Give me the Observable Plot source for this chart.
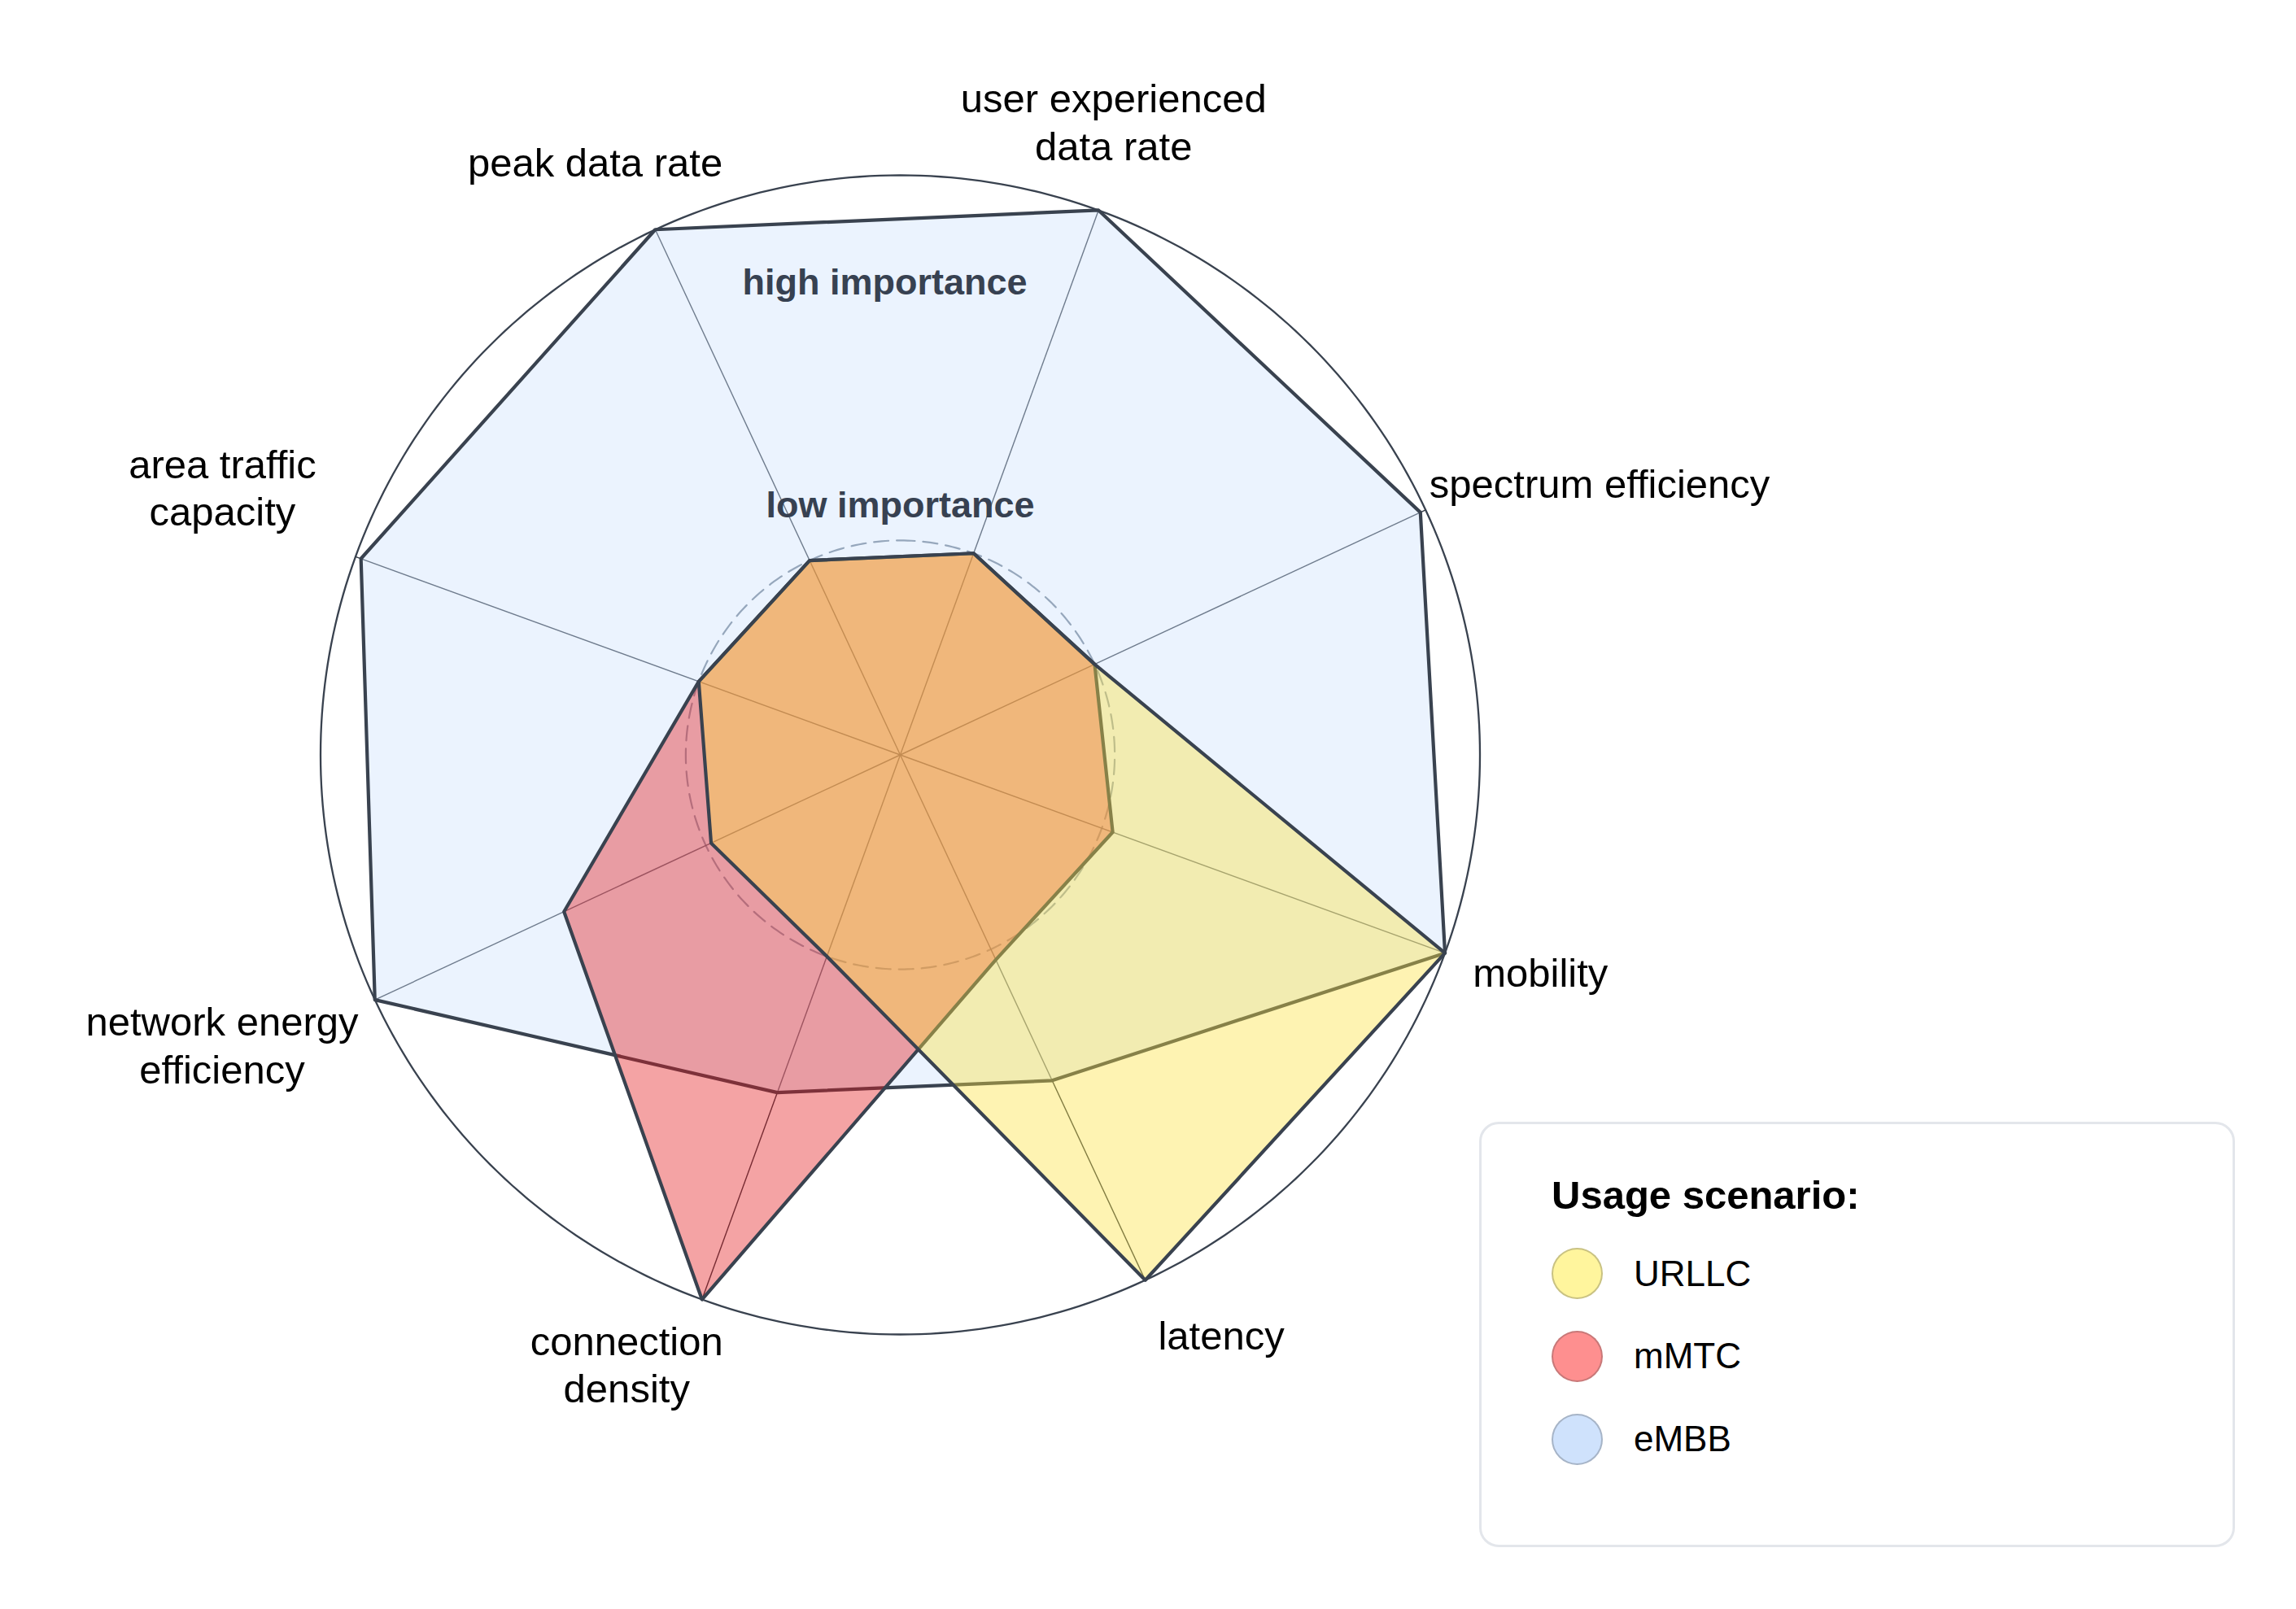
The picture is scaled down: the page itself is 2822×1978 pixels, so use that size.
<!DOCTYPE html>
<html>
<head>
<meta charset="utf-8">
<script src="https://cdn.jsdelivr.net/npm/d3@7"></script>
<script src="https://cdn.jsdelivr.net/npm/@observablehq/plot@0.6"></script>
<style>
  html, body { margin: 0; padding: 0; background: #ffffff; }
  body { font-family: "Liberation Sans", Arial, sans-serif; }
  #wrap { position: relative; width: 2822px; height: 1978px; overflow: hidden; }
  #legend {
    position: absolute; left: 1818px; top: 1379px; width: 929px; height: 523px;
    box-sizing: border-box; border: 3px solid #e3e6eb; border-radius: 24px; background: #fff;
  }
  #legend .title {
    position: absolute; left: 86px; top: 63px; font-size: 49px; line-height: 49px;
    font-weight: bold; color: #000; white-space: nowrap;
  }
  #legend .item {
    position: absolute; left: 86px; height: 66px; display: flex; align-items: center;
    font-size: 44px; color: #000; white-space: nowrap;
  }
  #legend .sw {
    width: 63px; height: 63px; border-radius: 50%; box-sizing: border-box;
    border: 2px solid rgba(60, 60, 60, 0.28); margin-right: 38px; flex: none;
  }
</style>
</head>
<body>
<div id="wrap"><div id="chart"></div><div id="legend"></div></div>
<script>
// ---------------- data ----------------
const axes = [
  "user experienced\ndata rate",
  "spectrum efficiency",
  "mobility",
  "latency",
  "connection\ndensity",
  "network energy\nefficiency",
  "area traffic\ncapacity",
  "peak data rate"
];
const scenarios = ["URLLC", "mMTC", "eMBB"];
// importance on each axis (fraction of the outer "high importance" ring)
const URLLC = [0.37, 0.37, 1.00, 1.00, 0.37, 0.36, 0.37, 0.37];
const mMTC  = [0.37, 0.37, 0.39, 0.39, 1.00, 0.64, 0.37, 0.37];
const eMBB  = [1.00, 0.99, 1.00, 0.62, 0.62, 1.00, 0.99, 1.00];
const levelLabels = ["high importance", "low importance"];
const levelValues = [1.0, 0.37];
const levelLabelValues = [0.815, 0.43];

// ---------------- styles / layout ----------------
const fillColors   = {URLLC: "#fce13e", mMTC: "#e41a1c", eMBB: "#cde1fc"};
const legendColors = {URLLC: "#fff59d", mMTC: "#fe8f8f", eMBB: "#cfe2fc"};
const drawOrder = ["eMBB", "mMTC", "URLLC"];
const seriesValues = {URLLC, mMTC, eMBB};
const W = 2822, H = 1978, cx = 1106, cy = 927.5, R = 712.5;
const startAngle = 20;
const ink = "#39424f";
const labelFont = 49, labelLH = 1.2, labelGap = 20;
// per-label placement nudges: [angle offset in degrees, radial offset in px]
const labelNudge = [[-1.4, -30], [3.7, -12], [-1.3, 10], [-4.0, 22],
                    [4.2, -8], [1.9, -3], [1.6, 35], [-2.2, -5]];

const step = 360 / axes.length;
const rad = i => (startAngle + i * step) * Math.PI / 180;
const px = (i, v) => Math.sin(rad(i)) * v;
const py = (i, v) => Math.cos(rad(i)) * v;

const circle = r => d3.range(0, 360, 1).map(a => ({
  x: Math.sin(a * Math.PI / 180) * r, y: Math.cos(a * Math.PI / 180) * r
}));

const spokes = axes.map((a, i) => ({x1: 0, y1: 0, x2: px(i, 1), y2: py(i, 1)}));

// label placement: centre of the label box sits just outside the outer ring
const ctx = document.createElement("canvas").getContext("2d");
ctx.font = `${labelFont}px "Liberation Sans"`;
const labels = axes.map((a, i) => {
  const lines = a.split("\n");
  const w = d3.max(lines, l => ctx.measureText(l).width);
  const h = lines.length * labelFont * labelLH;
  const s = Math.sin(rad(i)), c = Math.cos(rad(i));
  const L = (R + labelGap + Math.abs(s) * w / 2 + Math.abs(c) * h / 2 + labelNudge[i][1]) / R;
  const ang = rad(i) + labelNudge[i][0] * Math.PI / 180;
  return {text: a, x: Math.sin(ang) * L, y: Math.cos(ang) * L};
});

const polys = drawOrder.map(name => ({
  name,
  pts: seriesValues[name].map((v, i) => ({x: px(i, v), y: py(i, v)}))
}));

const levelText = levelLabels.map((t, k) => ({text: t, x: 0, y: levelLabelValues[k]}));

const chart = Plot.plot({
  width: W, height: H,
  marginTop: 0, marginRight: 0, marginBottom: 0, marginLeft: 0,
  x: {domain: [-cx / R, (W - cx) / R], axis: null},
  y: {domain: [-(H - cy) / R, cy / R], axis: null},
  style: {fontFamily: '"Liberation Sans", Arial, sans-serif', background: "#ffffff", overflow: "visible"},
  marks: [
    Plot.line(circle(levelValues[0]), {x: "x", y: "y", curve: "linear-closed", stroke: ink, strokeWidth: 2.3}),
    Plot.line(circle(levelValues[1]), {x: "x", y: "y", curve: "linear-closed", stroke: "#728091",
      strokeWidth: 2.2, strokeDasharray: "18,10"}),
    Plot.link(spokes, {x1: "x1", y1: "y1", x2: "x2", y2: "y2", stroke: "#2f3742", strokeWidth: 1.4}),
    ...polys.map(p => Plot.line(p.pts, {
      x: "x", y: "y", curve: "linear-closed",
      fill: fillColors[p.name], fillOpacity: 0.4,
      stroke: ink, strokeWidth: 4.2, strokeLinejoin: "round"
    })),
    Plot.text(labels, {x: "x", y: "y", text: "text", fontSize: labelFont, lineHeight: labelLH,
      textAnchor: "middle", fill: "#000"}),
    Plot.text(levelText.slice(0, 1), {x: "x", y: "y", text: "text", fontSize: 45, fontWeight: "bold",
      fill: "#374151", textAnchor: "middle", dx: -19}),
    Plot.text(levelText.slice(1), {x: "x", y: "y", text: "text", fontSize: 45, fontWeight: "bold",
      fill: "#374151", textAnchor: "middle"})
  ]
});
document.getElementById("chart").appendChild(chart);

// legend
const legend = document.getElementById("legend");
const title = document.createElement("div");
title.className = "title";
title.textContent = "Usage scenario:";
legend.appendChild(title);
scenarios.forEach((s, k) => {
  const row = document.createElement("div");
  row.className = "item";
  row.style.top = (150.5 + k * 101.75) + "px";
  const sw = document.createElement("span");
  sw.className = "sw";
  sw.style.background = legendColors[s];
  row.appendChild(sw);
  row.appendChild(document.createTextNode(s));
  legend.appendChild(row);
});
</script>
</body>
</html>
